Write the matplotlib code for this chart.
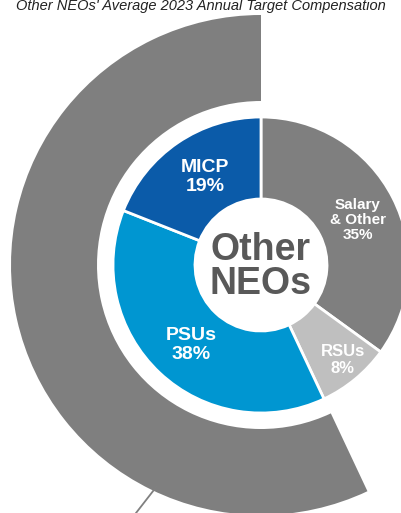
import matplotlib.pyplot as plt

# inner donut data
labels = ['Salary\n& Other', 'RSUs', 'PSUs', 'MICP']
shares = [35, 8, 38, 19]
inner_colors = ['#7f7f7f', '#bfbfbf', '#0096d1', '#0b5ba9']

# outer ring (share of total shown as grey arc)
outer_vals = [57, 43]

title = "Other NEOs' Average 2023 Annual Target Compensation"

plt.rcParams['font.family'] = ['Liberation Sans', 'DejaVu Sans']

fig = plt.figure(figsize=(4.02, 5.13), dpi=100)
ax = fig.add_axes([0, 0, 1, 1])

cx, cy = 261, 513 - 265

ax.pie(outer_vals, radius=250, center=(cx, cy), startangle=90, counterclock=True,
       colors=['#7f7f7f', 'none'], wedgeprops=dict(width=86, linewidth=0))

wedges, _ = ax.pie(shares, radius=148, center=(cx, cy), startangle=90, counterclock=False,
                   colors=inner_colors,
                   wedgeprops=dict(width=82, edgecolor='white', linewidth=2))

# slice labels
label_pos = [(358, 220), (343, 360), (191, 345), (205, 177)]
label_size = [11, 12, 14, 14]
for lab, s, (x, y), fs in zip(labels, shares, label_pos, label_size):
    ax.text(x, 513 - y, f'{lab}\n{s}%', ha='center', va='center', color='white',
            fontsize=fs, fontweight='bold', linespacing=1.1)

ax.text(cx, 513 - 267, 'Other\nNEOs', ha='center', va='center', color='#595959',
        fontsize=27, fontweight='bold', linespacing=0.95)

# leader line
ax.plot([157, 136], [513 - 486, 513 - 513], color='#808080', linewidth=1.3)

ax.set_xlim(0, 402)
ax.set_ylim(0, 513)
ax.set_aspect('auto')
ax.axis('off')

fig.text(0.5, 1 - 10 / 513, title, ha='center', va='baseline', fontsize=10.5,
         style='italic', color='#222222')

fig.savefig('out.png', dpi=100)
